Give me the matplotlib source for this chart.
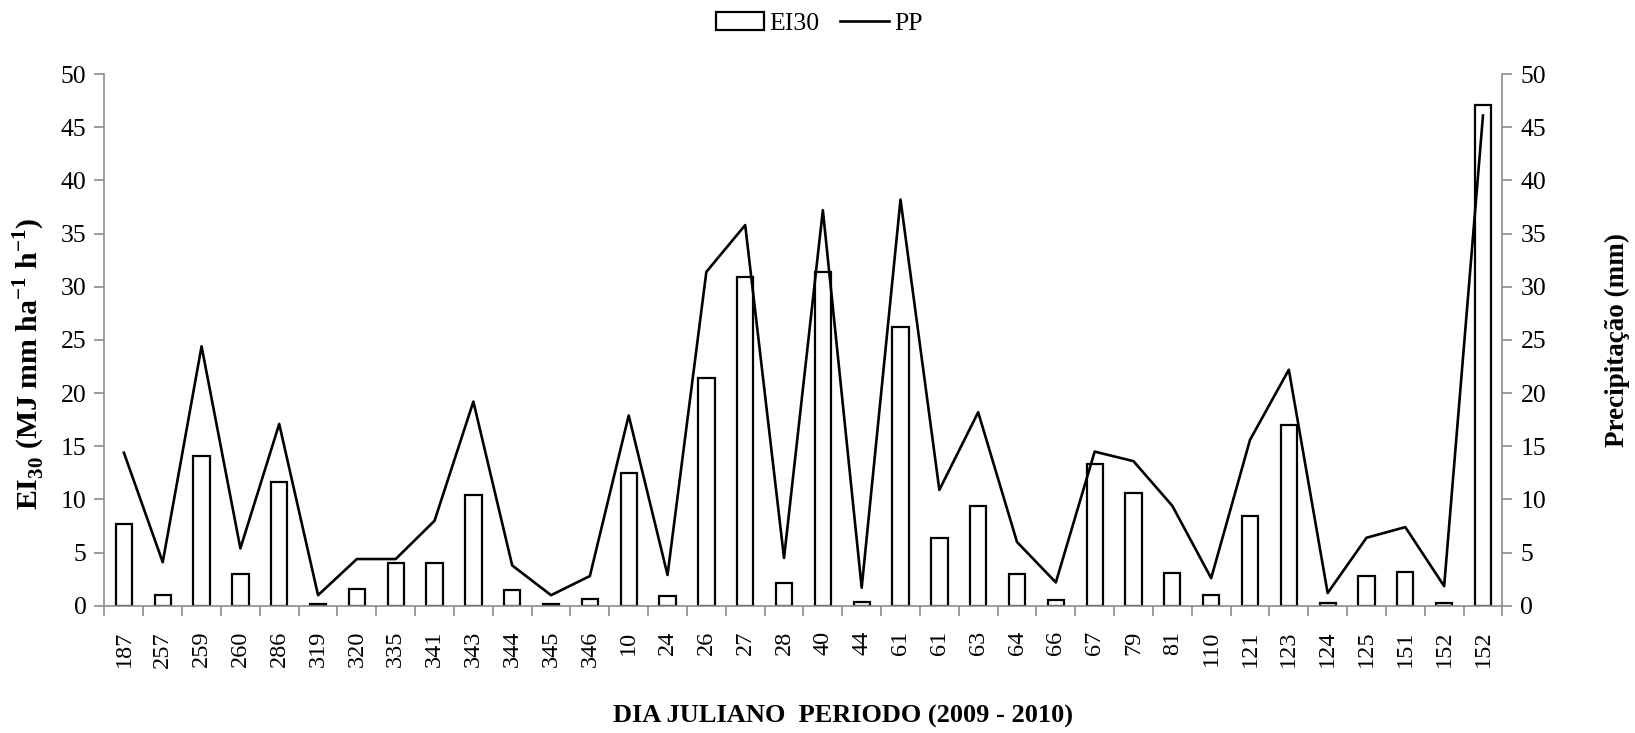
import numpy as np
import matplotlib
matplotlib.use("Agg")
import matplotlib.pyplot as plt
from matplotlib.ticker import FixedLocator, NullFormatter

# Data
dias = ["187", "257", "259", "260", "286", "319", "320", "335", "341", "343", "344",
        "345", "346", "10", "24", "26", "27", "28", "40", "44", "61", "61", "63", "64",
        "66", "67", "79", "81", "110", "121", "123", "124", "125", "151", "152", "152"]
ei30 = [7.7, 1.0, 14.1, 3.0, 11.6, 0.15, 1.6, 4.0, 4.0, 10.4, 1.5,
        0.15, 0.6, 12.5, 0.95, 21.4, 30.9, 2.15, 31.4, 0.4, 26.2, 6.4, 9.4, 3.0,
        0.55, 13.3, 10.6, 3.1, 1.0, 8.4, 17.0, 0.25, 2.8, 3.2, 0.25, 47.1]
pp = [14.4, 4.1, 24.4, 5.4, 17.1, 1.0, 4.4, 4.4, 8.0, 19.2, 3.8,
      1.0, 2.8, 17.9, 2.9, 31.4, 35.8, 4.5, 37.2, 1.7, 38.2, 10.9, 18.2, 6.0,
      2.2, 14.5, 13.6, 9.4, 2.6, 15.6, 22.2, 1.2, 6.4, 7.4, 1.85, 46.1]
y_ticks = [0, 5, 10, 15, 20, 25, 30, 35, 40, 45, 50]

plt.rcParams['font.family'] = ['Liberation Serif', 'DejaVu Serif']
plt.rcParams['mathtext.fontset'] = 'custom'
plt.rcParams['mathtext.rm'] = 'Liberation Serif:bold'
plt.rcParams['mathtext.bf'] = 'Liberation Serif:bold'
plt.rcParams['font.size'] = 18.5

GRAY = '#8c8c8c'

fig = plt.figure(figsize=(16.35, 7.33), dpi=100)
ax = fig.add_axes([0.0639, 0.1735, 0.855, 0.7255])
ax2 = ax.twinx()

x = np.arange(len(dias))
bars = ax.bar(x, ei30, width=0.42, color='white', edgecolor='black', linewidth=1.6,
              label='EI30', zorder=2)
line, = ax2.plot(x, pp, color='black', linewidth=1.9, label='PP', zorder=3)

for a in (ax, ax2):
    a.set_ylim(0, 50)
    a.set_yticks(y_ticks)
    a.set_xlim(-0.5, len(dias) - 0.5)
    a.spines['top'].set_visible(False)
    for s in ('left', 'right', 'bottom'):
        a.spines[s].set_color(GRAY)
        a.spines[s].set_linewidth(1.2)
    a.tick_params(axis='y', colors=GRAY, labelcolor='black', length=7, width=1.2, pad=6)

ax.spines['right'].set_visible(False)
ax2.spines['left'].set_visible(False)
ax2.spines['bottom'].set_visible(False)

# category labels at centres, tick marks between categories
ax.set_xticks(x)
ax.set_xticklabels(dias, rotation=90)
ax.tick_params(axis='x', which='major', length=0, pad=18, labelsize=17.5)
ax.xaxis.set_minor_locator(FixedLocator(np.arange(-0.5, len(dias), 1.0)))
ax.xaxis.set_minor_formatter(NullFormatter())
ax.tick_params(axis='x', which='minor', length=7, width=1.2, colors=GRAY)

ax.set_ylabel(r'EI$_{30}$ (MJ mm ha$^{-1}$ h$^{-1}$)', fontweight='bold', fontsize=21.5)
ax.yaxis.set_label_coords(-0.041, 0.455)
ax2.set_ylabel('Precipitação (mm)', fontweight='bold', fontsize=19.5, labelpad=42)
ax.set_xlabel('DIA JULIANO  PERIODO (2009 - 2010)', fontweight='bold', fontsize=19)
ax.xaxis.set_label_coords(0.528, -0.186)

fig.legend([bars, line], ['EI30', 'PP'], loc='center', bbox_to_anchor=(0.501, 0.968),
           ncol=2, frameon=False, handlelength=1.9, columnspacing=0.8, handletextpad=0.2)

fig.savefig('out.png', dpi=100)
